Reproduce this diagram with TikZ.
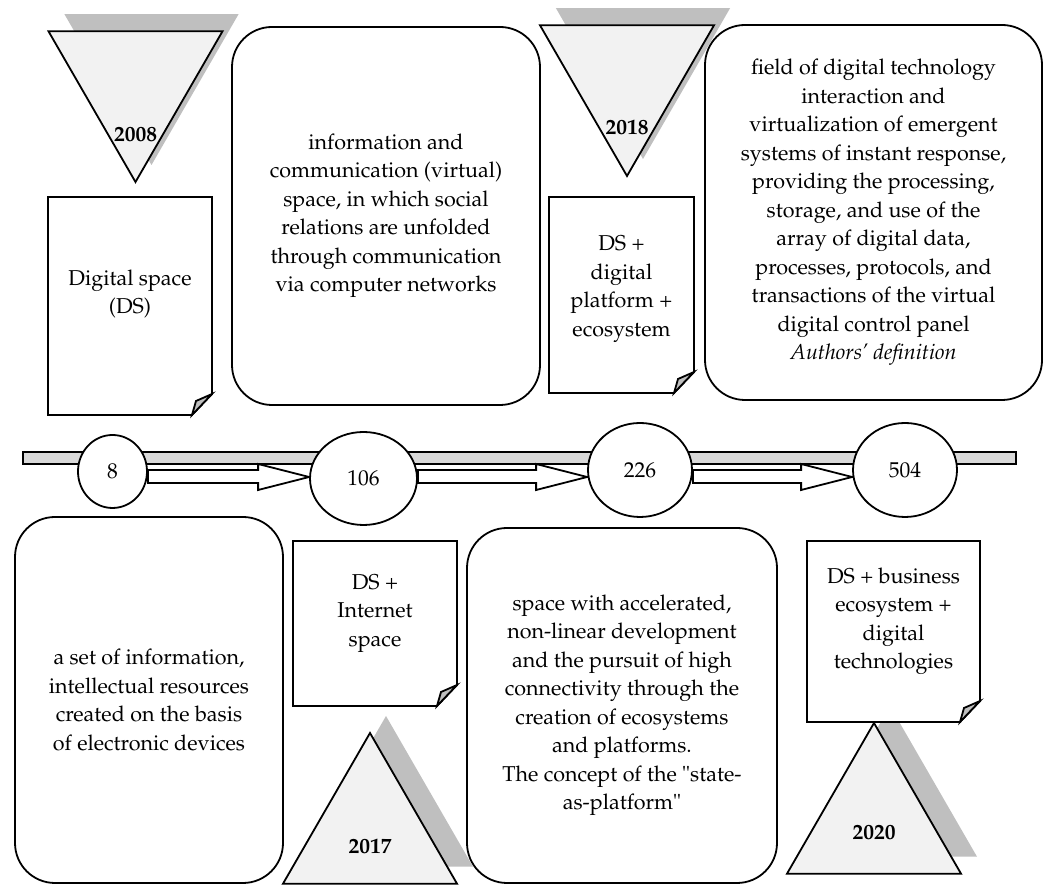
\documentclass[tikz,border=0pt]{standalone}
\usepackage[T1]{fontenc}
\usepackage{mathpazo}
\usepackage{tikz}
\usetikzlibrary{shapes.geometric,shadows,calc,positioning}
\definecolor{trifill}{HTML}{F2F2F2}
\definecolor{shadowgray}{HTML}{BFBFBF}
\definecolor{barfill}{HTML}{D9D9D9}
\pgfdeclarelayer{background}
\pgfsetlayers{background,main}

% page frame with folded corner round an empty node
\newcommand{\docframe}[1]{%
  \draw[fill=white] (#1.north west) -- (#1.north east) -- ([yshift=21pt]#1.south east)
        -- ([xshift=-20pt]#1.south east) -- (#1.south west) -- cycle;
  \draw[fill=shadowgray] ([yshift=21pt]#1.south east) -- ([xshift=-16pt,yshift=14pt]#1.south east)
        -- ([xshift=-20pt]#1.south east) -- cycle;}
% wide hollow arrow between two stages
\newcommand{\blockarrow}[2]{%
  \draw[arrowbody] let \p1=(#1.east), \p2=(#2.west) in
    (\x1,415) -- (\x2-51pt,415) -- (\x2-51pt,421) -- (\x2,408) -- (\x2-51pt,395)
    -- (\x2-51pt,402) -- (\x1,402) -- cycle;}

\begin{document}
\begin{tikzpicture}[x=1pt,y=1pt,line width=1.8pt,
    txt/.style={align=center,font=\fontsize{21.5}{28.5}\selectfont},
    yearlbl/.style={font=\fontsize{21.5}{26}\selectfont\bfseries},
    rbox/.style={txt,draw,fill=white,rounded corners=40pt,inner sep=0pt},
    docbox/.style={draw=none,rectangle,inner sep=0pt,outer sep=0pt},
    tri/.style={regular polygon,regular polygon sides=3,minimum size=201pt,inner sep=0pt,
        draw,fill=trifill,drop shadow={shadow xshift=16pt,shadow yshift=17pt,fill=shadowgray,opacity=1}},
    stage/.style={ellipse,draw,fill=white,inner sep=0pt,font=\fontsize{21.5}{26}\selectfont},
    bar/.style={draw,line width=1.8pt,fill=barfill,rectangle,inner sep=0pt,minimum width=993pt,minimum height=12pt},
    arrowbody/.style={draw,line width=1.8pt,fill=white,line join=miter}]
\useasboundingbox (0,0) rectangle (1046,885);

% years
\node[tri,shape border rotate=180] (t2008) at (135.5,803.5) {};
\node[tri,shape border rotate=180] (t2018) at (627,809.5) {};
\node[tri] (t2017) at (370,51.5) {};
\node[tri] (t2020) at (874,61.5) {};
\node[yearlbl] (y2008) at ([yshift=-53pt]t2008.center) {2008};
\node[yearlbl] (y2018) at ([yshift=-52pt]t2018.center) {2018};
\node[yearlbl] (y2017) at ([yshift=-13pt]t2017.center) {2017};
\node[yearlbl] (y2020) at ([yshift=-9pt]t2020.center) {2020};

% definitions
\node[rbox,minimum width=308pt,minimum height=378pt] (info) at (386,669)
  {information and\\communication (virtual)\\space, in which social\\relations are unfolded\\through communication\\via computer networks};
\node[rbox,minimum width=337pt,minimum height=375pt] (field) at (873.5,672.5)
  {field of digital technology\\interaction and\\virtualization of emergent\\systems of instant response,\\providing the processing,\\storage, and use of the\\array of digital data,\\processes, protocols, and\\transactions of the virtual\\digital control panel\\\textit{Authors' definition}};
\node[rbox,minimum width=268pt,minimum height=366pt] (set) at (149,185)
  {a set of information,\\intellectual resources\\created on the basis\\of electronic devices};
\node[rbox,minimum width=310pt,minimum height=355pt] (accel) at (622,179.5)
  {space with accelerated,\\non-linear development\\and the pursuit of high\\connectivity through the\\creation of ecosystems\\and platforms.\\The concept of the "state-\\as-platform"};

% pages
\node[docbox,minimum width=164pt,minimum height=218pt] (d2008) at (130,579) {};
\node[docbox,minimum width=145pt,minimum height=196pt] (d2018) at (621.5,590) {};
\node[docbox,minimum width=164pt,minimum height=165pt] (d2017) at (375,261.5) {};
\node[docbox,minimum width=173pt,minimum height=181pt] (d2020) at (893.5,253.5) {};
\docframe{d2008}
\docframe{d2018}
\docframe{d2017}
\docframe{d2020}
\node[txt] (d2008t) at ([yshift=12pt]d2008.center) {Digital space\\(DS)};
\node[txt] (d2018t) at ([yshift=6pt]d2018.center) {DS +\\digital\\platform +\\ecosystem};
\node[txt] (d2017t) at ([yshift=10pt]d2017.center) {DS +\\Internet\\space};
\node[txt] (d2020t) at ([yshift=10pt]d2020.center) {DS + business\\ecosystem +\\digital\\technologies};

% timeline
\node[stage,minimum width=69pt,minimum height=73pt] (n8) at (112.5,413.5) {8};
\node[stage,minimum width=107pt,minimum height=93pt] (n106) at (363.5,406.5) {106};
\node[stage,minimum width=104pt,minimum height=94pt] (n226) at (640,415) {226};
\node[stage,minimum width=104pt,minimum height=94pt] (n504) at (905,415) {504};
\begin{pgfonlayer}{background}
\node[bar] (axis) at (519.5,427) {};
\blockarrow{n8}{n106}
\blockarrow{n106}{n226}
\blockarrow{n226}{n504}
\end{pgfonlayer}
\end{tikzpicture}
\end{document}
